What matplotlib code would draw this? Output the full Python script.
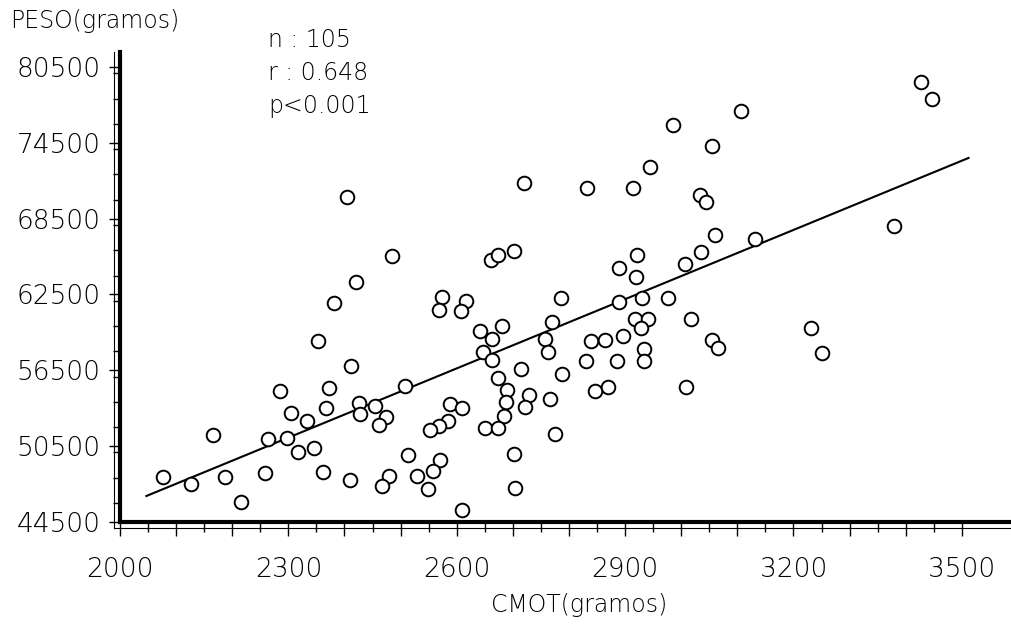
import matplotlib
matplotlib.use("Agg")
import matplotlib.pyplot as plt
from matplotlib.ticker import MultipleLocator, FuncFormatter
import numpy as np

# CMOT (gramos) of each case
cmot = [2404, 2485, 2420, 2382, 2353, 2411, 2285, 2373, 2507, 2304,
        2367, 2333, 2425, 2427, 2455, 2474, 2462, 2165, 2263, 2297,
        2318, 2345, 2514, 2077, 2126, 2187, 2259, 2361, 2409, 2479,
        2466, 2529, 2216,
        2720, 2832, 2914, 2945, 3033, 2661, 2674, 2702, 2889, 2921,
        2920, 3006, 3036, 2574, 2569, 2616, 2607, 2785, 2890, 2931,
        2977, 2641, 2662, 2681, 2770, 2757, 2763, 2646, 2663, 2917,
        2940, 2929, 3017, 2839, 2864, 2897, 2934, 2934, 2830, 2885,
        2714, 2788, 2674, 2689, 2688, 2729, 2721, 2766, 2847, 2869,
        3009, 2588, 2610, 2584, 2569, 2552, 2684, 2651, 2674, 2775,
        2570, 2557, 2549, 2702, 2703, 2610,
        3428, 3447, 3107, 2986, 3054, 3044, 3060, 3132, 3379, 3232,
        3251, 3054, 3066]

# PESO (gramos)
peso = [70240, 65570, 63460, 61830, 58800, 56820, 54840, 55130, 55240, 53120,
        53500, 52510, 53890, 53040, 53650, 52780, 52200, 51380, 51090, 51170,
        50040, 50350, 49780, 48040, 47480, 48040, 48380, 48430, 47800, 48120,
        47370, 48120, 46110,
        71300, 70900, 70900, 72580, 70390, 65250, 65620, 65960, 64620, 65650,
        63910, 64910, 65880, 62320, 61270, 61960, 61170, 62200, 61880, 62200,
        62200, 59630, 58980, 60030, 60300, 58980, 57970, 57930, 57340, 60560,
        60560, 59870, 60560, 58840, 58900, 59240, 58190, 57210, 57210, 57210,
        56600, 56210, 55890, 54940, 53970, 54570, 53570, 54230, 54890, 55200,
        55180, 53840, 53520, 52470, 52120, 51800, 52860, 51910, 51910, 51460,
        49430, 48510, 47110, 49860, 47190, 45470,
        79330, 77960, 77040, 75910, 74270, 69790, 67230, 66890, 67940, 59870,
        57870, 58920, 58240]

# regression line
slope = 18.255
intercept = 9189
fit_x = [2047, 3512]

x_ticks_labeled = [2000, 2300, 2600, 2900, 3200, 3500]
y_ticks = [44500, 50500, 56500, 62500, 68500, 74500, 80500]
stats_text = ["n : 105", "r : 0.648", "p<0.001"]

plt.rcParams['font.family'] = ['DejaVu Sans']

W, H = 1011, 625
fig = plt.figure(figsize=(W / 100, H / 100), dpi=100)
fig.patch.set_facecolor("white")

left_px, right_px, bottom_px, top_px = 120, 1011, 522, 52
ax = fig.add_axes([left_px / W, (H - bottom_px) / H,
                   (right_px - left_px) / W, (bottom_px - top_px) / H])
x_per_px = 1 / 0.5612
y_per_px = 1 / 0.01264
ax.set_xlim(2000, 2000 + (right_px - left_px) * x_per_px)
ax.set_ylim(44500, 44500 + (bottom_px - top_px) * y_per_px)

# line, then open circles on top
fx = np.array(fit_x)
ax.plot(fx, slope * fx + intercept, color="black", lw=1.5, zorder=2)
ax.plot(cmot, peso, linestyle="none", marker="o", markersize=9.8,
        markerfacecolor="white", markeredgecolor="black",
        markeredgewidth=1.4, zorder=3)

for s in ["top", "right"]:
    ax.spines[s].set_visible(False)
ax.spines["left"].set_linewidth(3)
ax.spines["bottom"].set_linewidth(3)

# thin companion lines of the axes, as on the scan
ax.plot([-0.0067, -0.0067], [-0.0128, 1.0], transform=ax.transAxes,
        color="black", lw=0.8, clip_on=False)
ax.plot([-0.0067, 1.0], [-0.0128, -0.0128], transform=ax.transAxes,
        color="black", lw=0.8, clip_on=False)

ax.set_xticks(np.arange(2000, 3501, 100))
ax.set_xticks(np.arange(2050, 3501, 100), minor=True)
ax.xaxis.set_major_formatter(FuncFormatter(
    lambda v, p: f"{int(round(v))}" if int(round(v)) in x_ticks_labeled else ""))
ax.set_yticks(y_ticks)
ax.yaxis.set_minor_locator(MultipleLocator(2000))
ax.set_yticklabels([str(v) for v in y_ticks])

ax.tick_params(axis="x", which="major", direction="out", length=10, width=1,
               pad=15, labelsize=19)
ax.tick_params(axis="x", which="minor", direction="out", length=7, width=1)
ax.tick_params(axis="y", which="major", direction="out", length=8, width=1,
               pad=6, labelsize=19)
ax.tick_params(axis="y", which="minor", direction="out", length=5, width=1)
for lab in ax.get_xticklabels() + ax.get_yticklabels():
    lab.set_fontweight("light")

fig.text(10 / W, 1 - 28 / H, "PESO(gramos)", fontsize=17, fontweight="light",
         ha="left", va="baseline")
fig.text(579 / W, 1 - 612 / H, "CMOT(gramos)", fontsize=17, fontweight="light",
         ha="center", va="baseline")
for i, t in enumerate(stats_text):
    fig.text(268 / W, 1 - (47 + 33 * i) / H, t, fontsize=17, fontweight="light",
             ha="left", va="baseline")

fig.savefig("out.png", dpi=100, facecolor="white")
